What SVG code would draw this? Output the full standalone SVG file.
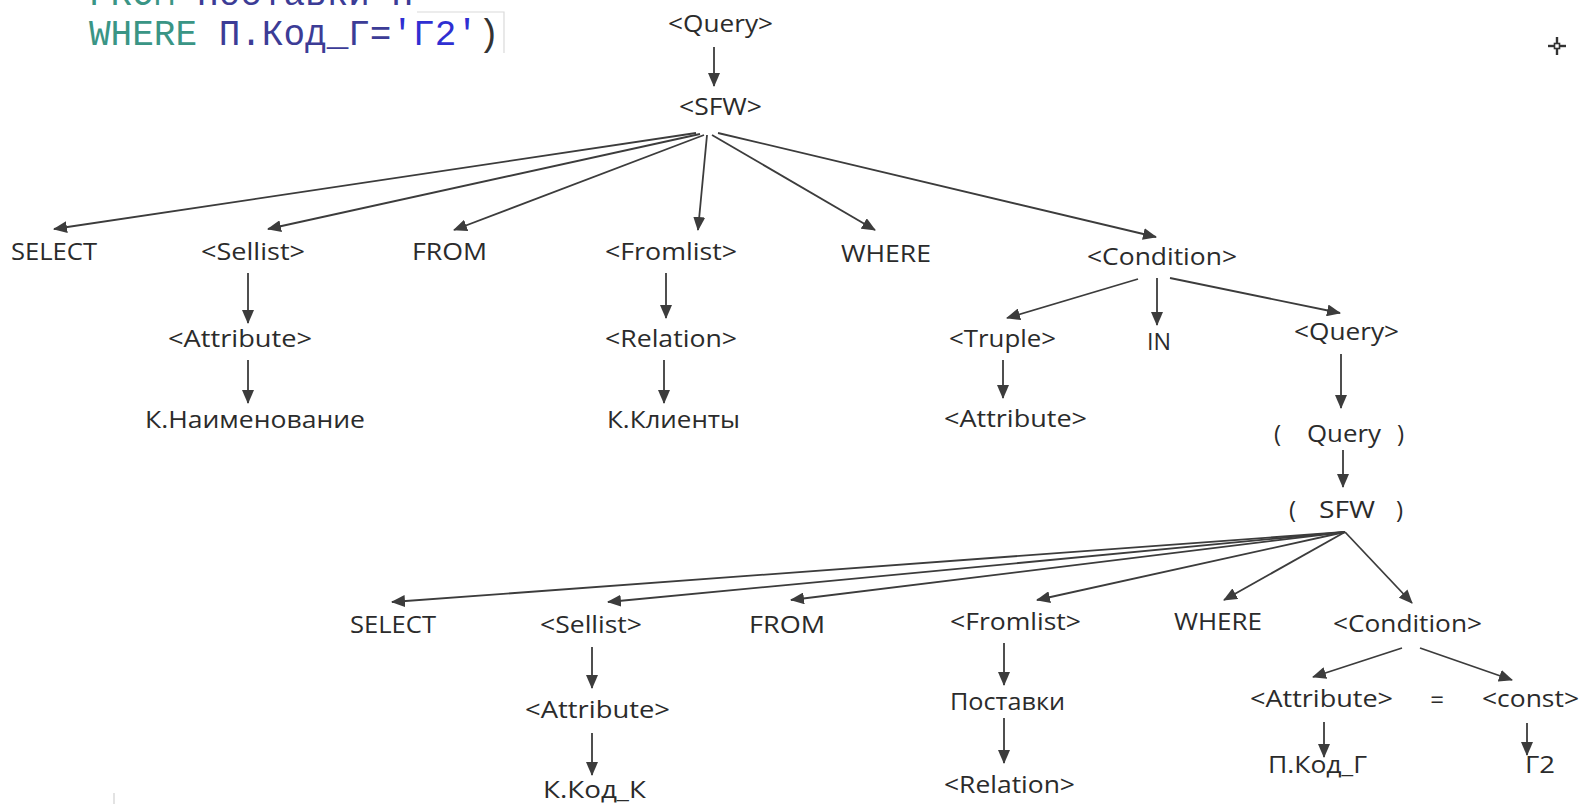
<svg xmlns="http://www.w3.org/2000/svg" width="1582" height="804" viewBox="0 0 1582 804">
<style>
.lbl{font-family:"Open Sans","Liberation Sans",sans-serif;font-size:24px;fill:#2b2b2b}
.code{font-family:"Liberation Mono","Courier New",monospace;font-size:36px}
.kw{fill:#3a9585}
.id{fill:#3c3c96}
.str{fill:#2f2fd2}
.pn{fill:#333}
.edge{stroke:#3c3c3c;stroke-width:1.8;fill:none;marker-end:url(#ah)}
</style>
<defs>
<marker id="ah" markerUnits="userSpaceOnUse" markerWidth="14" markerHeight="12" viewBox="0 0 14 12" refX="13" refY="6" orient="auto">
<path d="M0,0 L14,6 L0,12 Z" fill="#3c3c3c"/>
</marker>
</defs>
<rect width="1582" height="804" fill="#fff"/>
<g id="code">
<text class="code" x="89" y="5" xml:space="preserve"><tspan class="kw">FROM</tspan><tspan class="id"> Поставки П</tspan></text>
<text class="code" x="89" y="45" xml:space="preserve"><tspan class="kw">WHERE</tspan><tspan class="id"> П.Код_Г=</tspan><tspan class="str">'Г2'</tspan><tspan class="pn">)</tspan></text>
<path d="M417,12 H504 V53" stroke="#dadada" stroke-width="1.2" fill="none"/>
</g>
<g id="cursor" stroke="#333" stroke-width="2.4">
<line x1="1548" y1="46" x2="1566" y2="46"/>
<line x1="1557" y1="37" x2="1557" y2="55"/>
<rect x="1554.5" y="43.5" width="5" height="5" fill="#fff" stroke-width="1.6"/>
</g>
<line x1="114" y1="793" x2="114" y2="804" stroke="#d0d0d0" stroke-width="1.2"/>
<g id="connectors">
<line class="edge" x1="714" y1="47" x2="714" y2="86"/>
<line class="edge" x1="696" y1="133" x2="54" y2="229"/>
<line class="edge" x1="700" y1="134" x2="268" y2="229"/>
<line class="edge" x1="704" y1="135" x2="454" y2="230"/>
<line class="edge" x1="707" y1="135" x2="698" y2="230"/>
<line class="edge" x1="712" y1="135" x2="875" y2="230"/>
<line class="edge" x1="718" y1="133" x2="1156" y2="237"/>
<line class="edge" x1="248" y1="273" x2="248" y2="323"/>
<line class="edge" x1="248" y1="360" x2="248" y2="403"/>
<line class="edge" x1="666" y1="273" x2="666" y2="318"/>
<line class="edge" x1="664" y1="360" x2="664" y2="403"/>
<line class="edge" x1="1138" y1="279" x2="1007" y2="318"/>
<line class="edge" x1="1157" y1="278" x2="1157" y2="325"/>
<line class="edge" x1="1170" y1="278" x2="1340" y2="313"/>
<line class="edge" x1="1003" y1="360" x2="1003" y2="398"/>
<line class="edge" x1="1341" y1="354" x2="1341" y2="408"/>
<line class="edge" x1="1343" y1="450" x2="1343" y2="487"/>
<line class="edge" x1="1345" y1="532" x2="392" y2="602"/>
<line class="edge" x1="1345" y1="532" x2="608" y2="602"/>
<line class="edge" x1="1345" y1="532" x2="791" y2="600"/>
<line class="edge" x1="1345" y1="532" x2="1037" y2="600"/>
<line class="edge" x1="1345" y1="532" x2="1224" y2="600"/>
<line class="edge" x1="1345" y1="532" x2="1412" y2="603"/>
<line class="edge" x1="592" y1="647" x2="592" y2="688"/>
<line class="edge" x1="592" y1="733" x2="592" y2="775"/>
<line class="edge" x1="1004" y1="643" x2="1004" y2="685"/>
<line class="edge" x1="1004" y1="718" x2="1004" y2="763"/>
<line class="edge" x1="1402" y1="648" x2="1313" y2="677"/>
<line class="edge" x1="1420" y1="648" x2="1512" y2="680"/>
<line class="edge" x1="1324" y1="722" x2="1324" y2="757"/>
<line class="edge" x1="1527" y1="723" x2="1527" y2="755"/>
</g>
<g id="n-query"><text class="lbl" x="668" y="32" textLength="105" lengthAdjust="spacingAndGlyphs">&lt;Query&gt;</text></g>
<g id="n-sfw"><text class="lbl" x="679" y="115" textLength="83" lengthAdjust="spacingAndGlyphs">&lt;SFW&gt;</text></g>
<g id="n-select"><text class="lbl" x="11" y="260" textLength="86" lengthAdjust="spacingAndGlyphs">SELECT</text></g>
<g id="n-sellist"><text class="lbl" x="201" y="260" textLength="104" lengthAdjust="spacingAndGlyphs">&lt;Sellist&gt;</text></g>
<g id="n-from"><text class="lbl" x="412" y="260" textLength="75" lengthAdjust="spacingAndGlyphs">FROM</text></g>
<g id="n-fromlist"><text class="lbl" x="605" y="260" textLength="132" lengthAdjust="spacingAndGlyphs">&lt;Fromlist&gt;</text></g>
<g id="n-where"><text class="lbl" x="841" y="262" textLength="90" lengthAdjust="spacingAndGlyphs">WHERE</text></g>
<g id="n-condition"><text class="lbl" x="1087" y="265" textLength="150" lengthAdjust="spacingAndGlyphs">&lt;Condition&gt;</text></g>
<g id="n-attr1"><text class="lbl" x="168" y="347" textLength="144" lengthAdjust="spacingAndGlyphs">&lt;Attribute&gt;</text></g>
<g id="n-kname"><text class="lbl" x="145" y="428" textLength="220" lengthAdjust="spacingAndGlyphs">К.Наименование</text></g>
<g id="n-relation1"><text class="lbl" x="605" y="347" textLength="132" lengthAdjust="spacingAndGlyphs">&lt;Relation&gt;</text></g>
<g id="n-kclients"><text class="lbl" x="607" y="428" textLength="133" lengthAdjust="spacingAndGlyphs">К.Клиенты</text></g>
<g id="n-truple"><text class="lbl" x="949" y="347" textLength="107" lengthAdjust="spacingAndGlyphs">&lt;Truple&gt;</text></g>
<g id="n-in"><text class="lbl" x="1147" y="350" textLength="24" lengthAdjust="spacingAndGlyphs">IN</text></g>
<g id="n-query2"><text class="lbl" x="1294" y="340" textLength="105" lengthAdjust="spacingAndGlyphs">&lt;Query&gt;</text></g>
<g id="n-attr2"><text class="lbl" x="944" y="427" textLength="143" lengthAdjust="spacingAndGlyphs">&lt;Attribute&gt;</text></g>
<g id="n-pquery"><text class="lbl" y="442"><tspan x="1274">(</tspan><tspan x="1307" textLength="74" lengthAdjust="spacingAndGlyphs">Query</tspan><tspan x="1397">)</tspan></text></g>
<g id="n-psfw"><text class="lbl" y="518"><tspan x="1289">(</tspan><tspan x="1319" textLength="56" lengthAdjust="spacingAndGlyphs">SFW</tspan><tspan x="1396">)</tspan></text></g>
<g id="n-select2"><text class="lbl" x="350" y="633" textLength="86" lengthAdjust="spacingAndGlyphs">SELECT</text></g>
<g id="n-sellist2"><text class="lbl" x="540" y="633" textLength="102" lengthAdjust="spacingAndGlyphs">&lt;Sellist&gt;</text></g>
<g id="n-from2"><text class="lbl" x="749" y="633" textLength="76" lengthAdjust="spacingAndGlyphs">FROM</text></g>
<g id="n-fromlist2"><text class="lbl" x="950" y="630" textLength="131" lengthAdjust="spacingAndGlyphs">&lt;Fromlist&gt;</text></g>
<g id="n-where2"><text class="lbl" x="1174" y="630" textLength="88" lengthAdjust="spacingAndGlyphs">WHERE</text></g>
<g id="n-condition2"><text class="lbl" x="1333" y="632" textLength="149" lengthAdjust="spacingAndGlyphs">&lt;Condition&gt;</text></g>
<g id="n-attr3"><text class="lbl" x="525" y="718" textLength="145" lengthAdjust="spacingAndGlyphs">&lt;Attribute&gt;</text></g>
<g id="n-kkodk"><text class="lbl" x="543" y="798" textLength="103" lengthAdjust="spacingAndGlyphs">К.Код_К</text></g>
<g id="n-postavki"><text class="lbl" x="950" y="710" textLength="115" lengthAdjust="spacingAndGlyphs">Поставки</text></g>
<g id="n-relation2"><text class="lbl" x="944" y="793" textLength="131" lengthAdjust="spacingAndGlyphs">&lt;Relation&gt;</text></g>
<g id="n-attr4"><text class="lbl" x="1250" y="707" textLength="143" lengthAdjust="spacingAndGlyphs">&lt;Attribute&gt;</text></g>
<g id="n-eq"><text class="lbl" x="1437" y="708" text-anchor="middle">=</text></g>
<g id="n-const"><text class="lbl" x="1482" y="707" textLength="97" lengthAdjust="spacingAndGlyphs">&lt;const&gt;</text></g>
<g id="n-pkodg"><text class="lbl" x="1268" y="773" textLength="99" lengthAdjust="spacingAndGlyphs">П.Код_Г</text></g>
<g id="n-g2"><text class="lbl" x="1525" y="773" textLength="30" lengthAdjust="spacingAndGlyphs">Г2</text></g>
</svg>
